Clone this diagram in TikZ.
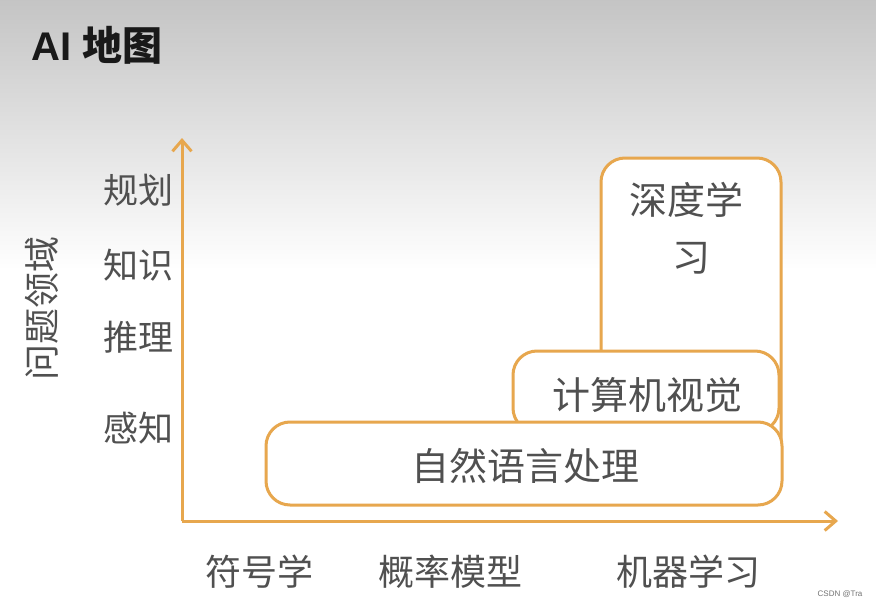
\documentclass[tikz,border=0pt]{standalone}
\usepackage{fontspec}
\setmainfont{Liberation Sans}
\newfontfamily\cjk{Noto Sans CJK SC}
\usetikzlibrary{arrows.meta}
\definecolor{axor}{RGB}{231,167,78}
\definecolor{txt}{RGB}{80,80,80}
\tikzset{
  axis/.style={draw=axor, line width=3pt, -{Straight Barb[length=11pt,width=19pt,line width=3pt]}},
  area/.style={draw=axor, line width=3pt, fill=white, rounded corners=24pt},
  lbl/.style={font=\cjk\fontsize{35}{38}\selectfont, text=txt, inner sep=0pt},
  xlbl/.style={font=\cjk\fontsize{36}{38}\selectfont, text=txt, inner sep=0pt},
  boxlbl/.style={font=\cjk\fontsize{38}{40}\selectfont, text=txt, inner sep=0pt},
}
\begin{document}
\begin{tikzpicture}[x=1pt,y=-1pt]
\useasboundingbox (0,0) rectangle (876,608);
\fill[white] (0,0) rectangle (876,608);
\shade[top color=black!23, bottom color=white] (0,0) rectangle (876,270);
% title
\node[anchor=west, inner sep=0pt, font=\bfseries\fontsize{40}{44}\selectfont, text=black!90] (title) at (31,45) {AI {\cjk\bfseries 地图}};
% axes
\coordinate (o) at (182,521);
\coordinate (ytop) at (182,138);
\coordinate (xend) at (838,521);
\draw[axis] (o) -- (ytop);
\draw[axis] (o) -- (xend);
% boxes
\draw[area] (601,445) -- (601,158) -- (781,158) -- (781,445);
\node[boxlbl] (dl1) at (686,200) {深度学};
\node[boxlbl] (dl2) at (691,258) {习};
\draw[area] (513,432) rectangle (779,351);
\node[boxlbl] (cv) at (647,395) {计算机视觉};
\draw[area] (266,505) rectangle (782,422);
\node[boxlbl] (nlp) at (525,466) {自然语言处理};
% y labels
\node[lbl] (y1) at (138,190) {规划};
\node[lbl] (y2) at (138,265) {知识};
\node[lbl] (y3) at (138,337) {推理};
\node[lbl] (y4) at (138,428) {感知};
\node[xlbl, rotate=90] (ylab) at (42,308) {问题领域};
% x labels
\node[xlbl] (x1) at (259,572) {符号学};
\node[xlbl] (x2) at (450,572) {概率模型};
\node[xlbl] (x3) at (688,572) {机器学习};
% watermark
\node[font=\fontsize{8}{9}\selectfont, text=black!55, inner sep=0pt] (wm) at (840,594) {CSDN @Tra};
\end{tikzpicture}
\end{document}
